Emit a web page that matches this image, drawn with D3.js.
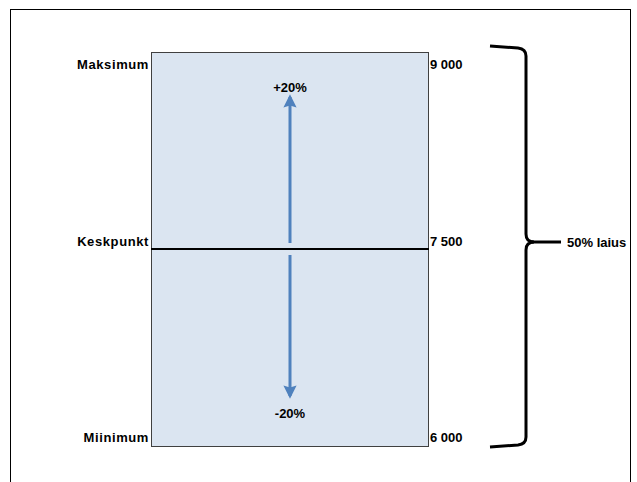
<!DOCTYPE html>
<html>
<head>
<meta charset="utf-8">
<script src="https://cdn.jsdelivr.net/npm/d3@7"></script>
<style>
  html, body { margin: 0; padding: 0; background: #fff; }
  svg text { font-family: "Liberation Sans", Arial, sans-serif; font-weight: bold; font-size: 13px; fill: #000; }
  svg text.name { letter-spacing: 0.6px; }
</style>
</head>
<body>
<svg id="chart" width="637" height="482"></svg>
<script>
// Range levels and their labels
const levelValues = [6000, 7500, 9000];
const levelNames = ["Miinimum", "Keskpunkt", "Maksimum"];
const levelLabels = ["6 000", "7 500", "9 000"];
const changeLabels = ["-20%", "+20%"];
const spreadLabel = "50% laius";

const svg = d3.select("#chart");

// Outer frame
svg.append("rect")
  .attr("x", 10.5).attr("y", 9.5)
  .attr("width", 620).attr("height", 490)
  .attr("fill", "none").attr("stroke", "#000").attr("stroke-width", 1);

const x0 = 151, x1 = 428;
const y = d3.scaleLinear().domain([6000, 9000]).range([446, 52]);
const minV = levelValues[0], midV = levelValues[1], maxV = levelValues[2];

// Range box
svg.append("rect")
  .attr("x", x0 + 0.5).attr("y", y(maxV) + 0.5)
  .attr("width", x1 - x0).attr("height", y(minV) - y(maxV))
  .attr("fill", "#dbe5f1").attr("stroke", "#404040").attr("stroke-width", 1);

// Midpoint line
svg.append("line")
  .attr("x1", x0).attr("x2", x1 + 1)
  .attr("y1", y(midV)).attr("y2", y(midV))
  .attr("stroke", "#000").attr("stroke-width", 2);

// Level names (left) and values (right)
const labelDy = [-9, -8, 12];
svg.selectAll("text.name").data(levelNames).join("text")
  .attr("class", "name")
  .attr("x", x0 - 2)
  .attr("y", (d, i) => y(levelValues[i]) + labelDy[i] + 4.5)
  .attr("text-anchor", "end")
  .text(d => d);

svg.selectAll("text.val").data(levelLabels).join("text")
  .attr("class", "val")
  .attr("x", x1 + 2)
  .attr("y", (d, i) => y(levelValues[i]) + labelDy[i] + 4.5)
  .text(d => d);

// Arrows
const defs = svg.append("defs");
defs.append("marker")
  .attr("id", "head").attr("viewBox", "0 0 10 10")
  .attr("refX", 8).attr("refY", 5)
  .attr("markerWidth", 4.4).attr("markerHeight", 4.4)
  .attr("orient", "auto")
  .append("path").attr("d", "M0,0 L10,5 L0,10 L1.5,5 Z").attr("fill", "#4f81bd");

const ax = (x0 + x1) / 2 + 0.5;
svg.append("line")
  .attr("x1", ax).attr("x2", ax)
  .attr("y1", y(midV) - 6).attr("y2", y(maxV) + 45)
  .attr("stroke", "#4f81bd").attr("stroke-width", 3)
  .attr("marker-end", "url(#head)");
svg.append("line")
  .attr("x1", ax).attr("x2", ax)
  .attr("y1", y(midV) + 6).attr("y2", y(minV) - 50)
  .attr("stroke", "#4f81bd").attr("stroke-width", 3)
  .attr("marker-end", "url(#head)");

svg.append("text").attr("x", ax).attr("y", y(maxV) + 40)
  .attr("text-anchor", "middle").text(changeLabels[1]);
svg.append("text").attr("x", ax).attr("y", y(minV) - 28)
  .attr("text-anchor", "middle").text(changeLabels[0]);

// Brace spanning the full range
const bx = 526, by0 = y(maxV) - 6, by1 = y(minV) + 1, bm = y(midV) - 7;
const brace = d3.path();
brace.moveTo(490, by0);
brace.lineTo(bx - 8, by0 + 2);
brace.quadraticCurveTo(bx, by0 + 3, bx, by0 + 10);
brace.lineTo(bx, bm - 8);
brace.quadraticCurveTo(bx, bm, bx + 8, bm);
brace.quadraticCurveTo(bx, bm, bx, bm + 8);
brace.lineTo(bx, by1 - 10);
brace.quadraticCurveTo(bx, by1 - 3, bx - 8, by1 - 2);
brace.lineTo(490, by1);
svg.append("path").attr("d", brace.toString())
  .attr("fill", "none").attr("stroke", "#000").attr("stroke-width", 3);
svg.append("line")
  .attr("x1", bx + 6).attr("x2", 561)
  .attr("y1", bm).attr("y2", bm)
  .attr("stroke", "#000").attr("stroke-width", 3);

svg.append("text").attr("x", 567).attr("y", bm + 4.5).text(spreadLabel);
</script>
</body>
</html>
